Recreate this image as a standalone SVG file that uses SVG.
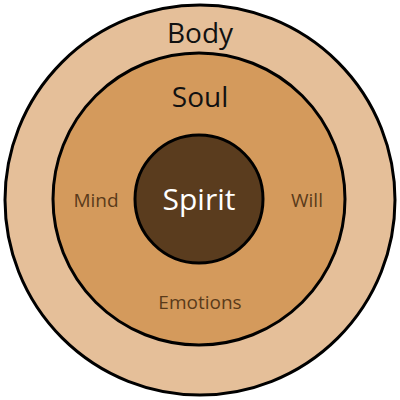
<svg xmlns="http://www.w3.org/2000/svg" width="400" height="400" viewBox="0 0 400 400">
<style>
.ring{stroke:#000;stroke-width:3}
text{font-family:"Open Sans","Noto Sans",sans-serif;text-anchor:middle}
.big{fill:#111;font-size:28px}
.sub{fill:#5a3a1a;font-size:19px}
</style>
<rect width="400" height="400" fill="#fff"/>
<g id="body">
<circle class="ring" cx="200" cy="200" r="195" fill="#e5bf99"/>
<text class="big" x="200" y="43">Body</text>
</g>
<g id="soul">
<circle class="ring" cx="199" cy="199" r="146" fill="#d49a5c"/>
<text class="big" x="200" y="107" font-size="29">Soul</text>
<text class="sub" x="96" y="207">Mind</text>
<text class="sub" x="307" y="207">Will</text>
<text class="sub" x="200" y="309">Emotions</text>
</g>
<g id="spirit">
<circle class="ring" cx="199" cy="199" r="64" fill="#5a3c1e"/>
<text x="199" y="210" fill="#fff" font-size="30">Spirit</text>
</g>
<g id="connectors"/>
</svg>
